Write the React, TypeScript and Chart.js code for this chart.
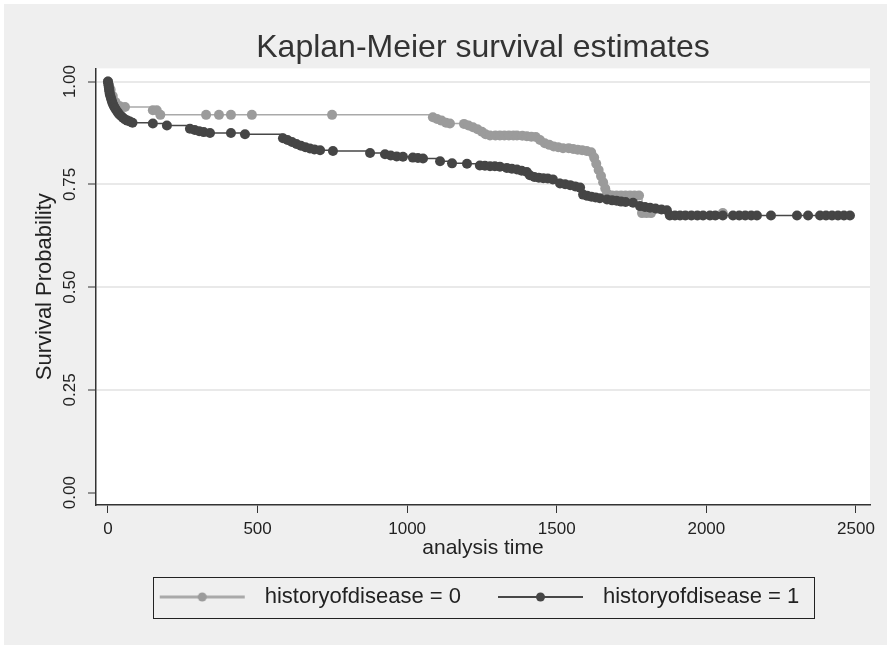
import React, { useEffect, useRef } from 'react';
import { Chart, registerables } from 'chart.js';

Chart.register(...registerables);

const TITLE = 'Kaplan-Meier survival estimates';
const X_TITLE = 'analysis time';
const Y_TITLE = 'Survival Probability';
const SERIES_LABELS = ['historyofdisease = 0', 'historyofdisease = 1'];

const X_TICKS = [0, 500, 1000, 1500, 2000, 2500];
const X_TICK_LABELS = ['0', '500', '1000', '1500', '2000', '2500'];
const Y_TICKS = [0, 0.25, 0.5, 0.75, 1];
const Y_TICK_LABELS = ['0.00', '0.25', '0.50', '0.75', '1.00'];

// historyofdisease = 0
const TIME_0 = [0, 4, 9, 16, 25, 40, 57, 150, 163, 175, 328, 371, 411, 481, 749,
  1086, 1100, 1115, 1130, 1143, 1190, 1205, 1220, 1235, 1250, 1262, 1277, 1295, 1310,
  1325, 1340, 1355, 1367, 1385, 1400, 1415, 1430, 1444, 1460, 1475, 1490, 1505, 1521,
  1540, 1555, 1570, 1585, 1600, 1615, 1625, 1632, 1640, 1648, 1655, 1662, 1668, 1685,
  1700, 1715, 1730, 1745, 1760, 1775, 1785, 1800, 1815, 2055];
const SURV_0 = [1.0, 0.99, 0.98, 0.965, 0.95, 0.94, 0.938, 0.93, 0.93, 0.919, 0.919, 0.919, 0.919, 0.919, 0.919,
  0.913, 0.909, 0.905, 0.9, 0.898, 0.897, 0.893, 0.889, 0.884, 0.878, 0.872, 0.869, 0.869, 0.869,
  0.869, 0.869, 0.869, 0.869, 0.868, 0.867, 0.866, 0.865, 0.858, 0.85, 0.846, 0.842, 0.84, 0.838,
  0.838, 0.836, 0.834, 0.833, 0.831, 0.828, 0.815, 0.8, 0.785, 0.77, 0.755, 0.74, 0.728, 0.723,
  0.723, 0.723, 0.723, 0.723, 0.723, 0.723, 0.68, 0.68, 0.68, 0.68];

// historyofdisease = 1
const TIME_1 = [0, 1, 2, 3, 4, 5, 6, 8, 10, 12, 14, 17, 20, 24, 28, 33, 38, 44, 50, 57, 65, 73, 82,
  150, 197, 274, 290, 305, 320, 341, 411, 458, 585, 600, 615, 630, 645, 660, 675, 690, 709,
  752, 876, 926, 945, 965, 986, 1019, 1036, 1053, 1110, 1150, 1200, 1243, 1260, 1277, 1293,
  1310, 1333, 1350, 1367, 1383, 1400, 1410, 1425, 1440, 1455, 1470, 1487, 1511, 1528, 1545,
  1562, 1578, 1588, 1602, 1616, 1630, 1644, 1668, 1685, 1700, 1715, 1730, 1755, 1778, 1795,
  1812, 1830, 1850, 1868, 1878, 1895, 1912, 1930, 1950, 1970, 1989, 2012, 2030, 2055, 2089,
  2110, 2130, 2150, 2169, 2216, 2303, 2340, 2380, 2400, 2420, 2440, 2460, 2480];
const SURV_1 = [1.0, 0.995, 0.99, 0.985, 0.98, 0.975, 0.97, 0.965, 0.96, 0.955, 0.95, 0.945, 0.94, 0.935, 0.93, 0.925, 0.92, 0.916, 0.912, 0.908, 0.905, 0.903, 0.9,
  0.898, 0.893, 0.885, 0.882, 0.879, 0.877, 0.875, 0.875, 0.872, 0.862, 0.858, 0.853, 0.848, 0.844, 0.84, 0.837, 0.835, 0.833,
  0.831, 0.826, 0.823, 0.82, 0.818, 0.817, 0.815, 0.814, 0.813, 0.806, 0.801, 0.8, 0.796, 0.795, 0.794, 0.794,
  0.793, 0.79, 0.788, 0.786, 0.783, 0.78, 0.772, 0.768, 0.766, 0.765, 0.764, 0.762, 0.752, 0.75, 0.748,
  0.745, 0.742, 0.725, 0.722, 0.72, 0.718, 0.716, 0.713, 0.711, 0.71, 0.708, 0.707, 0.705, 0.697, 0.695,
  0.693, 0.691, 0.689, 0.687, 0.674, 0.674, 0.674, 0.674, 0.674, 0.674, 0.674, 0.674, 0.674, 0.674, 0.674,
  0.674, 0.674, 0.674, 0.674, 0.674, 0.674, 0.674, 0.674, 0.674, 0.674, 0.674, 0.674, 0.674];

const FONT = '"Liberation Sans", Arial, Helvetica, sans-serif';
const TEXT = '#333333';
const GRAY_LINE = '#a9a9a9';
const GRAY_MARK = '#9b9b9b';
const DARK_LINE = '#474747';
const DARK_MARK = '#454545';

const SYMBOL_W = 107;

function makeSymbol(line: string, mark: string, lw: number): HTMLCanvasElement {
  const c = document.createElement('canvas');
  c.width = SYMBOL_W;
  c.height = 12;
  const g = c.getContext('2d')!;
  g.strokeStyle = line;
  g.lineWidth = lw;
  g.beginPath();
  g.moveTo(13, 6);
  g.lineTo(98, 6);
  g.stroke();
  g.fillStyle = mark;
  g.beginPath();
  g.arc(55.5, 6, 4.5, 0, Math.PI * 2);
  g.fill();
  return c;
}

const framePlugin = {
  id: 'frame',
  afterLayout(chart: any) {
    const lg = chart.legend;
    if (lg) {
      lg.left -= 10;
      lg.right -= 10;
    }
  },
  beforeDraw(chart: any) {
    const { ctx, width, height, chartArea } = chart;
    ctx.save();
    ctx.fillStyle = '#ffffff';
    ctx.fillRect(0, 0, width, height);
    ctx.fillStyle = '#efefef';
    ctx.fillRect(4, 4, width - 4, height - 4);
    ctx.fillStyle = '#ffffff';
    ctx.fillRect(chartArea.left, chartArea.top, chartArea.right - chartArea.left, chartArea.bottom - chartArea.top);
    ctx.restore();
  },
  afterDraw(chart: any) {
    const legend = chart.legend;
    const hbs = legend && legend.legendHitBoxes;
    if (!hbs || !hbs.length) return;
    const { ctx } = chart;
    const left = Math.min(...hbs.map((h: any) => h.left)) + 6;
    const right = Math.max(...hbs.map((h: any) => h.left + h.width)) + 14;
    const cy = hbs[0].top + hbs[0].height / 2;
    ctx.save();
    ctx.strokeStyle = '#222222';
    ctx.lineWidth = 1;
    ctx.strokeRect(Math.round(left) + 0.5, Math.round(cy - 20.5) + 0.5, Math.round(right - left), 41);
    ctx.restore();
  },
};

export default function App() {
  const ref = useRef<HTMLCanvasElement | null>(null);

  useEffect(() => {
    document.body.style.margin = '0';
    const canvas = ref.current;
    if (!canvas) return;
    const symbols = [makeSymbol(GRAY_LINE, GRAY_MARK, 3), makeSymbol(DARK_LINE, DARK_MARK, 2)];

    const chart = new Chart(canvas, {
      type: 'line',
      data: {
        datasets: [
          {
            label: SERIES_LABELS[0],
            data: TIME_0.map((t, i) => ({ x: t, y: SURV_0[i] })),
            borderColor: GRAY_LINE,
            backgroundColor: GRAY_MARK,
            borderWidth: 1.5,
            stepped: 'before',
            pointRadius: 5,
            pointBorderWidth: 0,
            pointBackgroundColor: GRAY_MARK,
            pointStyle: 'circle',
            order: 2,
          },
          {
            label: SERIES_LABELS[1],
            data: TIME_1.map((t, i) => ({ x: t, y: SURV_1[i] })),
            borderColor: DARK_LINE,
            backgroundColor: DARK_MARK,
            borderWidth: 1.5,
            stepped: 'before',
            pointRadius: 5,
            pointBorderWidth: 0,
            pointBackgroundColor: DARK_MARK,
            pointStyle: 'circle',
            order: 1,
          },
        ],
      },
      options: {
        responsive: false,
        animation: false,
        devicePixelRatio: 1,
        layout: { padding: { left: 4, right: 17, top: 0, bottom: 27 } },
        plugins: {
          title: {
            display: true,
            text: TITLE,
            fullSize: false,
            color: TEXT,
            font: { family: FONT, size: 32, weight: 'normal', lineHeight: 1.2 },
            padding: { top: 29, bottom: 1 },
          },
          legend: {
            display: true,
            position: 'bottom',
            fullSize: false,
            labels: {
              color: '#222222',
              font: { family: FONT, size: 22 },
              padding: 24,
              usePointStyle: true,
              pointStyleWidth: SYMBOL_W,
              boxHeight: 12,
              generateLabels: (ch: any) => {
                const items = Chart.defaults.plugins.legend.labels.generateLabels(ch);
                return items
                  .sort((a: any, b: any) => a.datasetIndex - b.datasetIndex)
                  .map((it: any) => ({ ...it, pointStyle: symbols[it.datasetIndex], lineWidth: 0 }));
              },
            },
          },
          tooltip: { enabled: false },
        },
        scales: {
          x: {
            type: 'linear',
            min: -40,
            max: 2547,
            afterBuildTicks: (s: any) => {
              s.ticks = X_TICKS.map((v) => ({ value: v }));
            },
            afterFit: (s: any) => {
              s.height = 57;
            },
            ticks: {
              color: '#222222',
              font: { family: FONT, size: 17 },
              padding: 6,
              maxRotation: 0,
              autoSkip: false,
              callback: (_v: any, i: number) => X_TICK_LABELS[i],
            },
            grid: {
              drawOnChartArea: false,
              drawTicks: true,
              tickLength: 8,
              tickColor: '#333333',
              tickWidth: 1,
            },
            border: { display: true, color: '#333333', width: 1.5 },
            title: {
              display: true,
              text: X_TITLE,
              color: '#222222',
              font: { family: FONT, size: 21 },
              padding: { top: 0, bottom: 1 },
            },
          },
          y: {
            type: 'linear',
            min: -0.03,
            max: 1.032,
            afterBuildTicks: (s: any) => {
              s.ticks = Y_TICKS.map((v) => ({ value: v }));
            },
            afterFit: (s: any) => {
              s.width = 92;
            },
            ticks: {
              color: '#222222',
              font: { family: FONT, size: 17 },
              padding: 1,
              minRotation: 90,
              maxRotation: 90,
              crossAlign: 'center',
              autoSkip: false,
              callback: (_v: any, i: number) => Y_TICK_LABELS[i],
            },
            grid: {
              drawOnChartArea: true,
              color: (c: any) => (c.tick && c.tick.value === 0 ? 'rgba(0,0,0,0)' : '#e9e9e9'),
              lineWidth: 2,
              drawTicks: true,
              tickLength: 8,
              tickColor: '#333333',
              tickWidth: 1,
            },
            border: { display: true, color: '#333333', width: 1.5 },
            title: {
              display: true,
              text: Y_TITLE,
              color: '#222222',
              font: { family: FONT, size: 22 },
              padding: { top: 28, bottom: 0 },
            },
          },
        },
      },
      plugins: [framePlugin],
    } as any);

    return () => chart.destroy();
  }, []);

  return <canvas ref={ref} width={887} height={645} style={{ display: 'block', width: 887, height: 645 }} />;
}
